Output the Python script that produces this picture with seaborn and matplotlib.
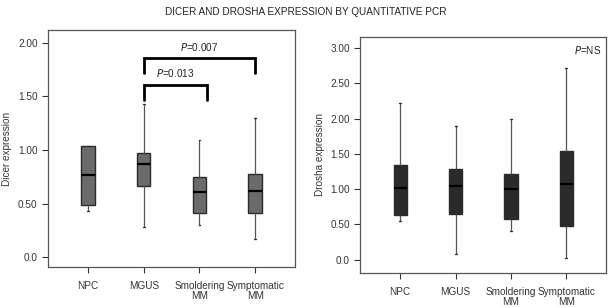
import numpy as np
import pandas as pd
import matplotlib
matplotlib.use("Agg")
import matplotlib.pyplot as plt
import seaborn as sns

# five-number summaries: low whisker, Q1, median, Q3, high whisker
groups = ["NPC", "MGUS", "Smoldering\nMM", "Symptomatic\nMM"]
dicer_low = [0.43, 0.28, 0.30, 0.17]
dicer_q1 = [0.49, 0.66, 0.41, 0.41]
dicer_med = [0.77, 0.865, 0.605, 0.615]
dicer_q3 = [1.04, 0.975, 0.75, 0.78]
dicer_high = [1.04, 1.43, 1.09, 1.30]

drosha_low = [0.55, 0.075, 0.40, 0.03]
drosha_q1 = [0.64, 0.65, 0.58, 0.475]
drosha_med = [1.02, 1.045, 1.00, 1.075]
drosha_q3 = [1.34, 1.29, 1.22, 1.54]
drosha_high = [2.22, 1.90, 2.00, 2.72]

# significance brackets on Dicer panel: (group a, group b, bracket top, leg bottom, label)
dicer_brackets = [("MGUS", "Symptomatic\nMM", 1.86, 1.72, "0.007"),
                  ("MGUS", "Smoldering\nMM", 1.61, 1.47, "0.013")]

sns.set_style("white")
plt.rcParams['font.family'] = ['Liberation Sans', 'DejaVu Sans']
plt.rcParams['text.color'] = '#222222'
FS = 7.2


def five_num_frame(low, q1, med, q3, high):
    rows = []
    for g, a, b, c, d, e in zip(groups, low, q1, med, q3, high):
        for v in (a, b, c, d, e):
            rows.append({"group": g, "value": v})
    return pd.DataFrame(rows)


dicer = five_num_frame(dicer_low, dicer_q1, dicer_med, dicer_q3, dicer_high)
drosha = five_num_frame(drosha_low, drosha_q1, drosha_med, drosha_q3, drosha_high)

fig = plt.figure(figsize=(6.12, 3.07), dpi=100)
ax1 = fig.add_axes([0.0784, 0.130, 0.404, 0.772])
ax2 = fig.add_axes([0.5887, 0.112, 0.402, 0.769])


def draw_panel(ax, df, color, ylim, yticks, ylabels, ylabel):
    sns.boxplot(ax=ax, data=df, x="group", y="value", order=groups, color=color,
                width=0.24, whis=(0, 100), saturation=1, linewidth=1.0,
                linecolor="#2a2a2a",
                medianprops={"color": "black", "linewidth": 1.6},
                whiskerprops={"color": "#555555", "linewidth": 0.9},
                capprops={"color": "#333333", "linewidth": 1.0},
                showfliers=False)
    # shorten caps
    for cont in ax.containers:
        if hasattr(cont, "caps"):
            for cap in cont.caps:
                xd = np.asarray(cap.get_xdata(), dtype=float)
                c = xd.mean()
                cap.set_xdata(c + (xd - c) * 0.28)
    ax.set_xlim(-0.72, 3.72)
    ax.set_ylim(*ylim)
    ax.set_yticks(yticks)
    ax.set_yticklabels(ylabels)
    ax.set_xlabel("")
    ax.set_ylabel(ylabel, fontsize=FS, color="#333333", labelpad=4)
    ax.tick_params(axis="both", labelsize=FS, colors="#333333", direction="out",
                   length=4, width=0.8, left=True, bottom=True)
    ax.tick_params(axis="x", pad=6)
    for lab in ax.get_xticklabels():
        lab.set_linespacing(1.0)
    for s in ax.spines.values():
        s.set_color("#555555")
        s.set_linewidth(0.9)


draw_panel(ax1, dicer, "#6b6b6b", (-0.093, 2.12), [0, 0.5, 1.0, 1.5, 2.0],
           ["0.0", "0.50", "1.00", "1.50", "2.00"], "Dicer expression")
draw_panel(ax2, drosha, "#2b2b2b", (-0.183, 3.164), [0, 0.5, 1.0, 1.5, 2.0, 2.5, 3.0],
           ["0.0", "0.50", "1.00", "1.50", "2.00", "2.50", "3.00"], "Drosha expression")

for ga, gb, top, bottom, p in dicer_brackets:
    xa, xb = groups.index(ga), groups.index(gb)
    if gb == "Smoldering\nMM":
        xb += 0.13
    ax1.plot([xa, xa, xb, xb], [bottom, top, top, bottom], color="black", lw=2.0,
             solid_joinstyle="miter")
    ax1.text((xa + xb) / 2, top + 0.05, "$\\it{P}$=" + p, ha="center", va="bottom",
             fontsize=FS)

ax2.text(0.98, 0.945, "$\\it{P}$=NS", transform=ax2.transAxes, ha="right", va="center",
         fontsize=FS)

fig.text(0.5, 0.961, "DICER AND DROSHA EXPRESSION BY QUANTITATIVE PCR", ha="center",
         va="center", fontsize=FS, color="#222222")

fig.savefig("out.png", dpi=100)
